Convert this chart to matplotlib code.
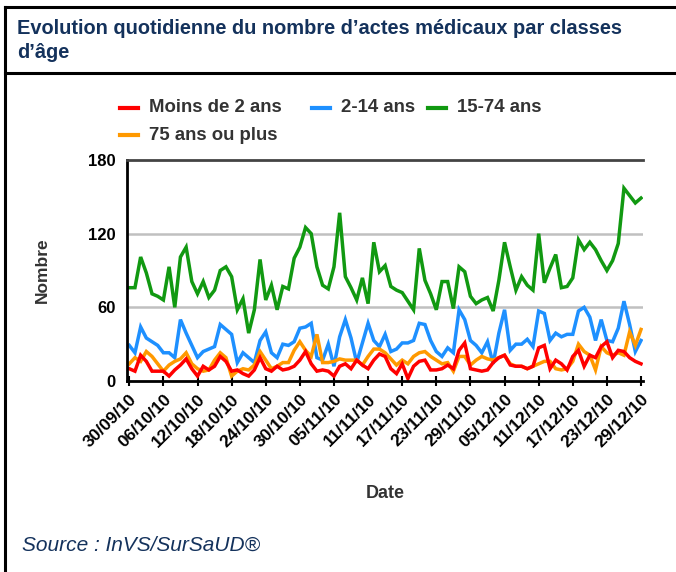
import matplotlib
matplotlib.use("Agg")
import matplotlib.pyplot as plt
from matplotlib.lines import Line2D
import numpy as np

plt.rcParams['font.family'] = ['Liberation Sans', 'DejaVu Sans']

# ---- data ----
tick_labels = ["30/09/10", "06/10/10", "12/10/10", "18/10/10", "24/10/10", "30/10/10",
               "05/11/10", "11/11/10", "17/11/10", "23/11/10", "29/11/10", "05/12/10",
               "11/12/10", "17/12/10", "23/12/10", "29/12/10"]

moins_2 = [10, 8, 21, 16, 8, 8, 8, 4, 9, 13, 18, 10, 4, 12, 9, 12, 20, 16, 8, 9,
           6, 4, 9, 19, 10, 8, 12, 9, 10, 12, 17, 24, 14, 8, 9, 8, 4, 12, 14, 10,
           17, 13, 10, 17, 22, 20, 10, 6, 14, 2, 12, 16, 17, 9, 9, 10, 13, 10, 25, 31,
           10, 9, 8, 9, 15, 19, 21, 13, 12, 12, 10, 12, 27, 29, 10, 17, 14, 9, 20, 25,
           12, 21, 19, 28, 32, 19, 25, 24, 19, 16, 14]

ans_2_14 = [29, 23, 44, 35, 32, 29, 23, 23, 19, 50, 39, 29, 19, 24, 26, 28, 46, 42, 38, 15,
            23, 19, 15, 33, 40, 23, 19, 30, 29, 32, 43, 44, 47, 19, 17, 30, 12, 36, 50, 35,
            15, 31, 47, 33, 28, 38, 24, 26, 31, 31, 33, 47, 46, 33, 24, 20, 27, 23, 58, 50,
            33, 29, 23, 32, 14, 39, 58, 25, 30, 30, 34, 28, 57, 55, 33, 39, 36, 38, 38, 57,
            60, 52, 33, 50, 33, 32, 43, 65, 46, 24, 33]

ans_15_74 = [76, 76, 101, 88, 71, 69, 66, 93, 60, 101, 109, 81, 71, 81, 68, 74, 90, 93, 85, 58,
             67, 39, 58, 99, 66, 78, 58, 77, 75, 100, 109, 125, 120, 93, 78, 75, 93, 137, 85, 76,
             66, 84, 63, 113, 89, 94, 77, 74, 72, 65, 58, 108, 82, 71, 58, 81, 81, 59, 93, 89,
             69, 63, 66, 68, 57, 82, 113, 93, 74, 85, 78, 74, 120, 80, 92, 103, 76, 77, 84, 115,
             107, 113, 107, 98, 90, 98, 112, 157, 151, 145, 149]

ans_75_plus = [14, 19, 16, 24, 20, 14, 8, 13, 16, 18, 23, 14, 10, 8, 9, 17, 23, 19, 4, 8,
               10, 9, 13, 24, 17, 10, 12, 15, 15, 25, 32, 25, 20, 38, 15, 15, 16, 18, 17, 17,
               17, 13, 20, 26, 26, 23, 18, 13, 17, 14, 20, 23, 24, 20, 17, 14, 15, 8, 20, 20,
               13, 17, 20, 18, 17, 19, 21, 14, 12, 12, 10, 12, 14, 16, 16, 10, 9, 10, 16, 30,
               24, 21, 9, 28, 23, 21, 23, 21, 40, 29, 42]

series_names = ["Moins de 2 ans", "2-14 ans", "15-74 ans", "75 ans ou plus"]
series_colors = ["#ff0000", "#1e90ff", "#119911", "#ff9900"]
y_ticks = [0, 60, 120, 180]

W, H = 676, 572
fig = plt.figure(figsize=(W / 100, H / 100), dpi=100)

def fx(px):
    return px / W

def fy(py):
    return 1 - py / H

navy = "#14325c"
dark = "#333333"

# frame lines
for (x0, y0, x1, y1) in [(5, 7, W, 7), (5, 73, W, 73), (5, 7, 5, H)]:
    fig.add_artist(Line2D([fx(x0), fx(x1)], [fy(y0), fy(y1)], color="black", lw=2.2,
                          transform=fig.transFigure))

fig.text(fx(17), fy(28), "Evolution quotidienne du nombre d\u2019actes m\u00e9dicaux par classes",
         fontsize=14.4, fontweight="bold", color=navy, va="center", ha="left")
fig.text(fx(17), fy(53), "d\u2019\u00e2ge", fontsize=14.4, fontweight="bold", color=navy,
         va="center", ha="left")

# axes
ax = fig.add_axes([fx(127), fy(381), fx(643) - fx(127), fy(160) - fy(381)])
x = np.arange(len(moins_2))
data = [moins_2, ans_2_14, ans_15_74, ans_75_plus]
order = [2, 1, 3, 0]
for i in order:
    ax.plot(x, data[i], color=series_colors[i], lw=2.5, solid_joinstyle="miter")

ax.set_xlim(-0.4, len(x) - 1 + 0.35)
ax.set_ylim(0, 180)
ax.set_yticks(y_ticks)
ax.set_yticklabels([str(v) for v in y_ticks], fontsize=12, fontweight="bold")
ax.tick_params(axis="y", length=0, pad=8)
for v in y_ticks[1:3]:
    ax.axhline(v, color="#c0c0c0", lw=1.8, zorder=0)
ax.set_xticks(np.arange(0, len(x), 6))
ax.set_xticklabels(tick_labels, rotation=45, ha="right", rotation_mode="anchor",
                   fontsize=12.5, fontweight="bold")
ax.tick_params(axis="x", direction="inout", length=7, width=1.5, pad=4)
ax.spines["right"].set_visible(False)
ax.spines["top"].set_color("#444444")
ax.spines["top"].set_linewidth(2)
ax.spines["left"].set_linewidth(2)
ax.spines["bottom"].set_linewidth(2)

fig.text(fx(42), fy(270), "Nombre", rotation=90, fontsize=12.5, fontweight="bold",
         color=dark, va="center", ha="center")
fig.text(fx(385), fy(493), "Date", fontsize=13, fontweight="bold", color=dark,
         va="center", ha="center")

# legend
leg_pos = [(120, 108), (312, 108), (428, 108), (120, 135)]
for (px, py), name, col in zip(leg_pos, series_names, series_colors):
    fig.add_artist(Line2D([fx(px), fx(px + 18)], [fy(py), fy(py)], color=col, lw=3,
                          transform=fig.transFigure))
    fig.text(fx(px + 29), fy(py), name, fontsize=13.4, fontweight="bold", color=dark,
             va="center", ha="left")

fig.text(fx(22), fy(545), "Source : InVS/SurSaUD\u00ae", fontsize=15, style="italic",
         color=navy, va="center", ha="left")

fig.savefig("out.png", dpi=100)
